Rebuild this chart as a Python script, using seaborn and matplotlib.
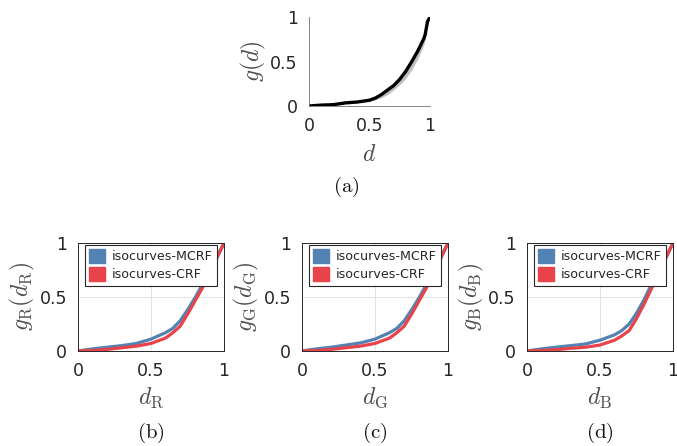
import matplotlib
matplotlib.use("Agg")
import matplotlib.pyplot as plt
import seaborn as sns
import numpy as np
import pandas as pd

# panel (a): mean response curve and its spread
d_a = [0.0, 0.1, 0.2, 0.3, 0.4, 0.5, 0.55, 0.6, 0.65, 0.7, 0.75, 0.8, 0.85, 0.9, 0.95, 0.96, 0.98, 1.0]
g_a = [0.0, 0.01, 0.015, 0.035, 0.045, 0.065, 0.09, 0.13, 0.18, 0.23, 0.3, 0.39, 0.5, 0.62, 0.76, 0.8, 0.95, 1.0]
g_a_lo = [0.0, 0.01, 0.015, 0.03, 0.04, 0.055, 0.07, 0.095, 0.13, 0.18, 0.24, 0.31, 0.41, 0.53, 0.69, 0.75, 0.93, 1.0]
g_a_hi = [0.0, 0.01, 0.015, 0.035, 0.045, 0.07, 0.095, 0.135, 0.185, 0.24, 0.31, 0.4, 0.51, 0.63, 0.77, 0.81, 0.95, 1.0]

# panels (b)-(d): isocurve-based CRFs per channel
d_c = [0.0, 0.1, 0.2, 0.3, 0.4, 0.5, 0.6, 0.65, 0.7, 0.75, 0.8, 0.85, 0.9, 0.95, 1.0]
mcrf = {
    "R": [0.0, 0.02, 0.035, 0.05, 0.07, 0.11, 0.17, 0.21, 0.28, 0.38, 0.49, 0.61, 0.73, 0.86, 1.0],
    "G": [0.0, 0.02, 0.035, 0.055, 0.075, 0.11, 0.17, 0.21, 0.28, 0.38, 0.49, 0.61, 0.73, 0.86, 1.0],
    "B": [0.0, 0.02, 0.035, 0.05, 0.065, 0.1, 0.15, 0.19, 0.25, 0.35, 0.47, 0.61, 0.73, 0.86, 1.0],
}
crf = {
    "R": [0.0, 0.005, 0.015, 0.03, 0.045, 0.07, 0.12, 0.17, 0.23, 0.34, 0.46, 0.58, 0.71, 0.86, 1.0],
    "G": [0.0, 0.005, 0.015, 0.03, 0.045, 0.07, 0.12, 0.17, 0.23, 0.34, 0.46, 0.58, 0.71, 0.86, 1.0],
    "B": [0.0, 0.005, 0.012, 0.025, 0.035, 0.055, 0.1, 0.14, 0.19, 0.3, 0.43, 0.57, 0.71, 0.86, 1.0],
}
channels = ["R", "G", "B"]
captions = ["(b)", "(c)", "(d)"]
series_names = ["isocurves-MCRF", "isocurves-CRF"]
colors = {"isocurves-MCRF": "#5383b3", "isocurves-CRF": "#e8424a"}

sns.set_theme(style="white")
plt.rcParams["font.family"] = ["DejaVu Sans"]
plt.rcParams["mathtext.fontset"] = "cm"

tick_col = "#262626"
lab_col = "#4d4d4d"

fig = plt.figure(figsize=(6.77, 4.46), dpi=100)


def style_ticks(ax):
    ax.set_xlim(0, 1)
    ax.set_ylim(0, 1)
    ax.set_xticks([0, 0.5, 1])
    ax.set_yticks([0, 0.5, 1])
    ax.set_xticklabels(["0", "0.5", "1"])
    ax.set_yticklabels(["0", "0.5", "1"])
    ax.tick_params(axis="both", direction="in", length=2, width=0.6,
                   labelsize=12.5, colors=tick_col, pad=8)


# ---- panel (a)
ax = fig.add_axes([0.4564, 0.7623, 0.1787, 0.1996])
ax.fill_between(d_a, g_a_lo, g_a_hi, color="#c0c0c0", lw=0)
sns.lineplot(x=d_a, y=g_a, ax=ax, color="black", lw=2.4)
style_ticks(ax)
for s in ["top", "right"]:
    ax.spines[s].set_visible(False)
for s in ["left", "bottom"]:
    ax.spines[s].set_color("#707070")
    ax.spines[s].set_linewidth(0.6)
ax.set_xlabel(r"$d$", fontsize=17, color=lab_col, labelpad=5)
ax.set_ylabel(r"$g(d)$", fontsize=17, color=lab_col, labelpad=2)
fig.text(0.512, 0.58, r"$\mathrm{(a)}$", fontsize=15, ha="center", va="center", color="#111111")

# ---- panels (b)-(d)
lefts = [0.1152, 0.4461, 0.7784]
for ch, cap, left in zip(channels, captions, lefts):
    ax = fig.add_axes([left, 0.2130, 0.2157, 0.2422])
    df = pd.DataFrame({
        "d": d_c * 2,
        "g": mcrf[ch] + crf[ch],
        "curve": [series_names[0]] * len(d_c) + [series_names[1]] * len(d_c),
    })
    sns.lineplot(data=df, x="d", y="g", hue="curve", palette=colors, ax=ax, lw=2.3)
    style_ticks(ax)
    ax.grid(True, color="#e3e3e3", lw=0.7)
    for s in ax.spines.values():
        s.set_color("#262626")
        s.set_linewidth(0.7)
    ax.set_xlabel(r"$d_{\mathrm{%s}}$" % ch, fontsize=17, color=lab_col, labelpad=4)
    ax.set_ylabel(r"$g_{\mathrm{%s}}(d_{\mathrm{%s}})$" % (ch, ch), fontsize=17,
                  color=lab_col, labelpad=2)
    handles = [plt.Rectangle((0, 0), 1, 1, color=colors[n]) for n in series_names]
    leg = ax.legend(handles, series_names, loc="upper left", bbox_to_anchor=(0.045, 0.985),
                    fontsize=9.1, frameon=True, fancybox=False, edgecolor="#262626",
                    framealpha=1, handlelength=1.3, handleheight=1.35, handletextpad=0.5,
                    borderpad=0.35, labelspacing=0.3, borderaxespad=0)
    leg.get_frame().set_linewidth(0.8)
    fig.text(left + 0.1078, 0.03, r"$\mathrm{%s}$" % cap, fontsize=15, ha="center",
             va="center", color="#111111")

plt.savefig("out.png", dpi=100)
